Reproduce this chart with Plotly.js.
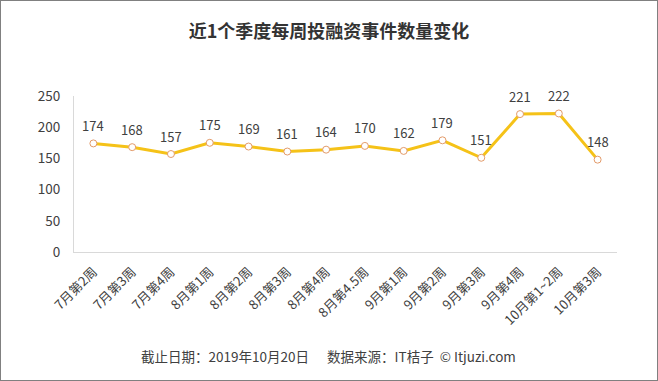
<!DOCTYPE html>
<html>
<head>
<meta charset="utf-8">
<script src="https://cdn.plot.ly/plotly-3.0.1.min.js"></script>
<style>
html,body{margin:0;padding:0;background:#fff;}
#chart{width:656px;height:379px;border:1px solid #808080;}
</style>
</head>
<body>
<div id="chart"></div>
<script>
const categories = ["7月第2周","7月第3周","7月第4周","8月第1周","8月第2周","8月第3周","8月第4周","8月第4.5周","9月第1周","9月第2周","9月第3周","9月第4周","10月第1~2周","10月第3周"];
const counts = [174,168,157,175,169,161,164,170,162,179,151,221,222,148];
const yTicks = [0,50,100,150,200,250];

const font = '"Microsoft YaHei","Noto Sans CJK SC","Noto Sans",sans-serif';

const trace = {
  x: categories,
  y: counts,
  type: 'scatter',
  mode: 'lines+markers',
  line: {color: '#F5C218', width: 3},
  marker: {size: 7, color: '#ffffff', line: {color: '#E39B6A', width: 1}},
  cliponaxis: false,
  hoverinfo: 'x+y'
};

const L = 73, R = 40, T = 95, B = 128, W = 656, H = 379;
const plotW = W - L - R, plotH = H - T - B;

const labelAnns = categories.map((c, i) => ({
  x: c, y: counts[i], xref: 'x', yref: 'y',
  text: String(counts[i]),
  showarrow: false,
  yshift: 18,
  font: {family: font, size: 13, color: '#404040'}
}));

const layout = {
  width: W,
  height: H,
  margin: {l: L, r: R, t: T, b: B},
  paper_bgcolor: '#ffffff',
  plot_bgcolor: 'rgba(0,0,0,0)',
  showlegend: false,
  title: {
    text: '<b>近1个季度每周投融资事件数量变化</b>',
    font: {family: font, size: 18, color: '#333333'},
    x: 0.5, xanchor: 'center', y: 1 - 31/H, yanchor: 'middle'
  },
  xaxis: {
    type: 'category',
    range: [-0.5, categories.length - 0.5],
    tickangle: -45,
    tickfont: {family: font, size: 13, color: '#404040'},
    ticklabelstandoff: 6,
    showgrid: false,
    showline: true,
    linecolor: '#d9d9d9',
    linewidth: 1,
    ticks: '',
    fixedrange: true
  },
  yaxis: {
    range: [0, 250],
    tickvals: yTicks,
    ticktext: yTicks.map(String),
    tickfont: {family: font, size: 13.5, color: '#404040'},
    showgrid: false,
    zeroline: false,
    showline: true,
    linecolor: '#d9d9d9',
    linewidth: 1,
    ticks: 'outside',
    ticklen: 10,
    tickcolor: 'rgba(0,0,0,0)',
    fixedrange: true
  },
  annotations: labelAnns.concat([{
    text: '截止日期：2019年10月20日&nbsp;&nbsp;&nbsp;&nbsp;&nbsp;&nbsp;数据来源：IT桔子&nbsp;&nbsp;© Itjuzi.com',
    xref: 'paper', yref: 'paper',
    x: (327 - L) / plotW, xanchor: 'center',
    y: -(355 - T - plotH) / plotH, yanchor: 'middle',
    showarrow: false,
    font: {family: font, size: 13.5, color: '#404040'}
  }])
};

Plotly.newPlot('chart', [trace], layout, {displayModeBar: false, staticPlot: true});
</script>
</body>
</html>
